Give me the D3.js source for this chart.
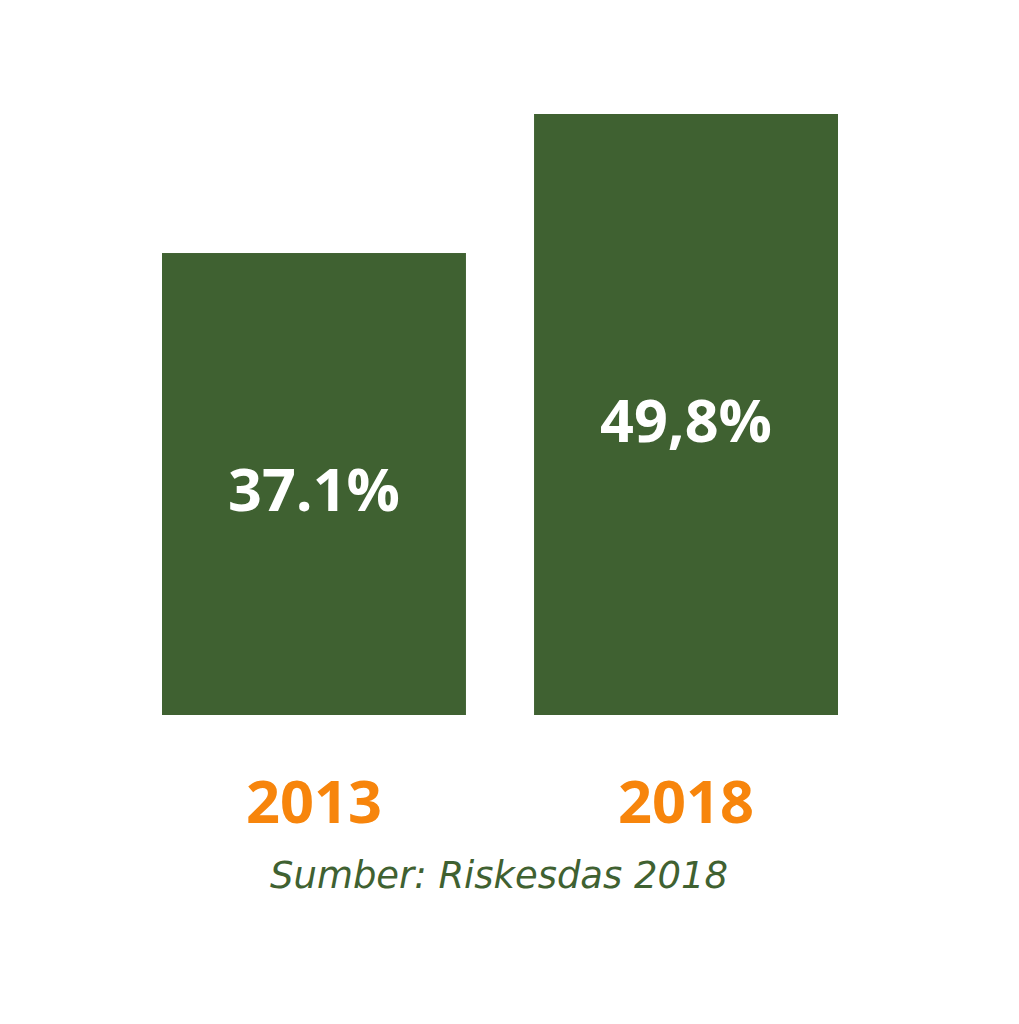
<!DOCTYPE html>
<html><head><meta charset="utf-8">
<script src="https://cdn.jsdelivr.net/npm/d3@7"></script>
<style>html,body{margin:0;padding:0;background:#fff;}</style>
</head><body>
<script>
const categories = ["2013", "2018"];
const values = [37.1, 49.8];
const valueLabels = ["37.1%", "49,8%"];
const sourceText = "Sumber: Riskesdas 2018";

const W = 1019, H = 1024;
const svg = d3.select("body").append("svg").attr("width", W).attr("height", H);
svg.append("rect").attr("width", W).attr("height", H).attr("fill", "#fff");

const x = d3.scaleBand().domain(categories).range([162, 838]).paddingInner(0.183).paddingOuter(0);
const y = d3.scaleLinear().domain([-5.1, 49.8]).range([715, 114]);

const green = "#3f6131", orange = "#f7850c";
const font = "'Open Sans', Lato, sans-serif";

function fitWidth(sel, target) {
  sel.each(function () {
    const t = d3.select(this);
    const fs = parseFloat(t.attr("font-size"));
    const w = this.getComputedTextLength();
    if (w > 0) t.attr("font-size", (fs * target / w).toFixed(2));
  });
}

svg.selectAll("rect.bar").data(values).join("rect").attr("class", "bar")
  .attr("x", (d, i) => x(categories[i]))
  .attr("width", x.bandwidth())
  .attr("y", d => y(d))
  .attr("height", d => y(-5.1) - y(d))
  .attr("fill", green);

const vals = svg.selectAll("text.val").data(values).join("text").attr("class", "val")
  .attr("x", (d, i) => x(categories[i]) + x.bandwidth() / 2)
  .attr("y", d => (y(d) + y(-5.1)) / 2 + 27)
  .attr("text-anchor", "middle")
  .attr("font-family", font).attr("font-weight", 700).attr("font-size", 56)
  .attr("fill", "#fff")
  .text((d, i) => valueLabels[i]);
fitWidth(vals, 172);

const xAxis = svg.append("g").attr("transform", "translate(0,823)")
  .call(d3.axisBottom(x).tickSize(0).tickPadding(0));
xAxis.select(".domain").remove();
const yl = xAxis.selectAll("text")
  .attr("dy", 0).attr("y", 0)
  .attr("font-family", font).attr("font-weight", 700).attr("font-size", 57)
  .attr("fill", orange);
fitWidth(yl, 136);

const src = svg.append("text").attr("x", 499).attr("y", 888).attr("text-anchor", "middle")
  .attr("font-family", "'DejaVu Sans', sans-serif").attr("font-style", "italic").attr("font-size", 32)
  .attr("fill", green).text(sourceText);
fitWidth(src, 458);
</script>
</body></html>
